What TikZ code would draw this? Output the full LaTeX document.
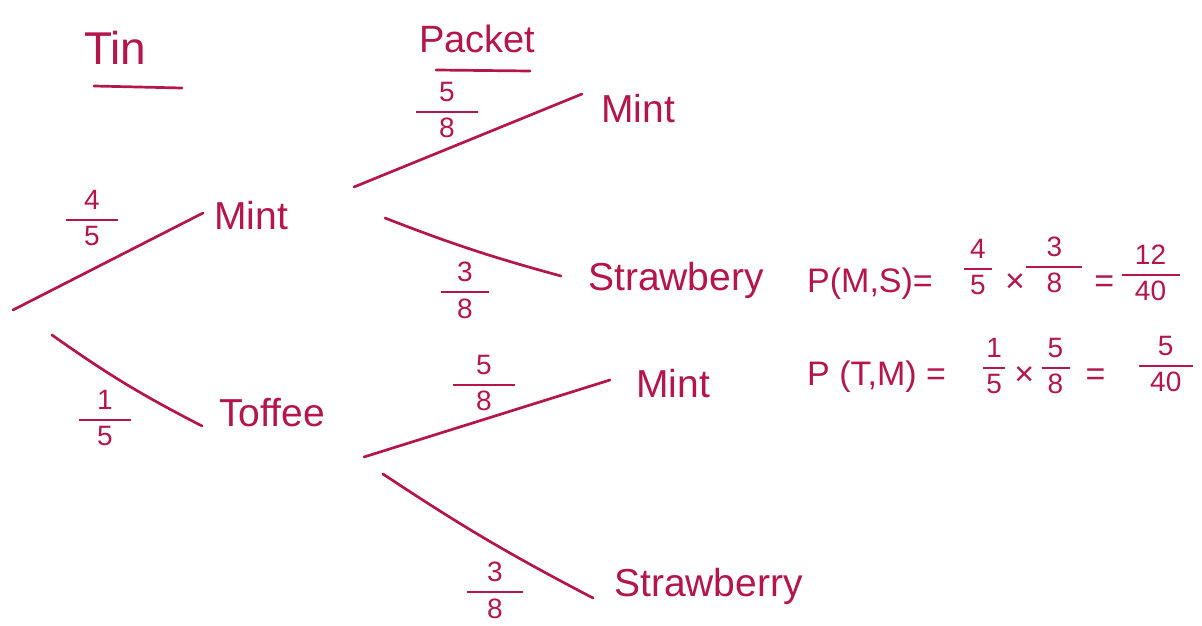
\documentclass[tikz,border=0pt]{standalone}
\usepackage{amsmath}
\usepackage{fontspec}
\setmainfont{Liberation Sans}
\usetikzlibrary{calc}
\definecolor{ink}{RGB}{180,22,75}

% stacked fraction with a bar of given width: \fr{width}{num}{den}
\newcommand\fr[3]{{\fontsize{28}{30}\selectfont$\genfrac{}{}{1.9pt}{0}{\makebox[#1]{#2}}{\makebox[#1]{#3}}$}}

\begin{document}
\begin{tikzpicture}[x=1pt,y=-1pt,
  word/.style={text=ink,font=\fontsize{39}{42}\selectfont,inner sep=0pt,anchor=base west},
  head/.style={text=ink,font=\fontsize{38}{42}\selectfont,inner sep=0pt,anchor=base west},
  prob/.style={text=ink,inner sep=0pt},
  eqn/.style={text=ink,font=\fontsize{34}{38}\selectfont,inner sep=0pt,anchor=base west},
  pen/.style={draw=ink,line width=2.7pt,line cap=round}]
\useasboundingbox (0,0) rectangle (1202,626);
\fill[white] (0,0) rectangle (1202,626);

% column headings with underlines
\node[head,font=\fontsize{46}{50}\selectfont] (tin) at (84,65) {Tin};
\draw[pen] ($(tin.base west)+(10,21)$) -- ($(tin.base west)+(98,23)$);
\node[head] (packet) at (419,53) {Packet};
\draw[pen] ($(packet.base west)+(17,17)$) -- ($(packet.base west)+(111,18)$);

% outcomes
\coordinate (root) at (13,310);
\node[word] (mint1)  at (214,229) {Mint};
\node[word] (toffee) at (219,426) {Toffee};
\node[word] (mint2)  at (601,122) {Mint};
\node[word] (straw1) at (588,290) {Strawbery};
\node[word] (mint3)  at (636,397) {Mint};
\node[word] (straw2) at (614,596) {Strawberry};

% branches
\draw[pen] (root) -- ($(mint1.base west)+(-11,-16)$);
\draw[pen] ($(root)+(39,25)$) to[bend right=4] ($(toffee.base west)+(-17,0)$);
\draw[pen] ($(mint1.base west)+(140,-42)$) -- ($(mint2.base west)+(-19,-28)$);
\draw[pen] ($(mint1.base west)+(171,-11)$) to[bend right=3] ($(straw1.base west)+(-27,-14)$);
\draw[pen] ($(toffee.base west)+(145,31)$) -- ($(mint3.base west)+(-26,-17)$);
\draw[pen] ($(toffee.base west)+(164,48)$) to[bend right=3] ($(straw2.base west)+(-21,2)$);

% branch probabilities
\node[prob] (p45)  at (92,218)  {\fr{52pt}{4}{5}};
\node[prob] (p15)  at (105,418) {\fr{52pt}{1}{5}};
\node[prob] (p58a) at (447,110) {\fr{62pt}{5}{8}};
\node[prob] (p38a) at (465,290) {\fr{48pt}{3}{8}};
\node[prob] (p58b) at (484,383) {\fr{62pt}{5}{8}};
\node[prob] (p38b) at (495,590) {\fr{56pt}{3}{8}};

% joint probabilities
\node[eqn] (eq1) at (807,292) {P(M,S)=\hspace{30pt}\raisebox{17pt}{\fr{28pt}{4}{5}}\hspace{12pt}×\hspace{0pt}\raisebox{19pt}{\fr{56pt}{3}{8}}\hspace{11pt}=\hspace{6pt}\raisebox{11pt}{\fr{58pt}{12}{40}}};
\node[eqn] (eq2) at (807,385) {P (T,M) =\hspace{36pt}\raisebox{11pt}{\fr{22pt}{1}{5}}\hspace{8pt}×\hspace{6pt}\raisebox{11pt}{\fr{28pt}{5}{8}}\hspace{15pt}=\hspace{32pt}\raisebox{13pt}{\fr{54pt}{5}{40}}};
\end{tikzpicture}
\end{document}
